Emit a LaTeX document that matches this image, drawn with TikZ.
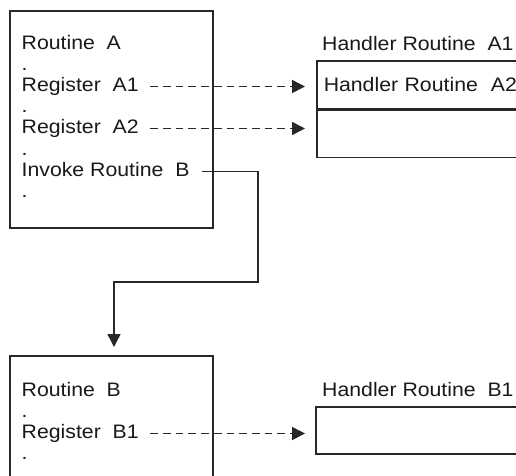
\documentclass[tikz,border=0pt]{standalone}
\usepackage{fontspec}
\setmainfont{Liberation Sans}[FakeStretch=1.09]
\usetikzlibrary{arrows.meta}
\definecolor{ink}{RGB}{40,40,40}
\definecolor{txtc}{RGB}{25,25,25}
\tikzset{
  txt/.style={anchor=base west, inner sep=0pt, text height=14pt, text depth=5pt, text=txtc, font=\fontsize{19.5}{23}\selectfont},
  boxr/.style={draw=ink, line width=1.5pt, rectangle, inner sep=0pt, anchor=north west},
  hbox/.style={draw=ink, line width=1.5pt, rectangle, anchor=north west, inner xsep=7pt, inner ysep=0pt, text width=236pt, align=left, text height=14pt, text depth=0pt, text=txtc, font=\fontsize{19.5}{23}\selectfont, minimum height=48pt},
  dasharrow/.style={draw=ink, line width=1.5pt, dash pattern=on 7.7pt off 5pt, -{Triangle[length=13pt,width=13pt]}},
  conn/.style={draw=ink, line width=1.5pt, -{Triangle[length=13pt,width=13pt]}},
}
\begin{document}
\begin{tikzpicture}[x=1pt,y=-1pt]
\clip (0,0) rectangle (516,475);
\fill[white] (0,0) rectangle (516,475);
% Routine A box
\node[boxr, minimum width=203pt, minimum height=217pt] (boxA) at (9,10) {};
\node[txt] (rA) at (21.5,49) {Routine\ \ A};
\node[txt] (dA1) at (21.5,70) {.};
\node[txt] (regA1) at (21.5,91) {Register\ \ A1};
\node[txt] (dA2) at (21.5,112) {.};
\node[txt] (regA2) at (21.5,133) {Register\ \ A2};
\node[txt] (dA3) at (21.5,155) {.};
\node[txt] (invB) at (21.5,176) {Invoke Routine\ \ B};
\node[txt] (dA4) at (21.5,197) {.};
% Handler A
\node[txt] (hA1) at (322,50) {Handler Routine\ \ A1};
\node[hbox] (hA2) at (316,60) {Handler Routine\ \ A2};
\node[hbox, minimum height=47pt] (hA3) at (hA2.south west) {};
% Routine B box
\node[boxr, minimum width=203pt, minimum height=160pt] (boxB) at (9,355) {};
\node[txt] (rB) at (21.5,396) {Routine\ \ B};
\node[txt] (dB1) at (21.5,417) {.};
\node[txt] (regB1) at (21.5,438) {Register\ \ B1};
\node[txt] (dB2) at (21.5,459) {.};
% Handler B
\node[txt] (hB1) at (322,396) {Handler Routine\ \ B1};
\node[hbox, minimum height=47pt] (hB) at (315,406) {};
% connectors
\draw[dasharrow, shorten <=11.5pt, shorten >=11pt] (regA1.east) -- (regA1.east -| hA2.west);
\draw[dasharrow, shorten <=11.5pt, shorten >=11pt] (regA2.east) -- (regA2.east -| hA3.west);
\draw[dasharrow, shorten <=11.5pt, shorten >=10pt] (regB1.east) -- (regB1.east -| hB.west);
\coordinate (bendA) at (258,282);
\coordinate (bendB) at (114,282);
\draw[conn, shorten >=8pt] ([xshift=12pt]invB.east) -| (bendA) -- (bendB) -- (bendB |- boxB.north);
\end{tikzpicture}
\end{document}
